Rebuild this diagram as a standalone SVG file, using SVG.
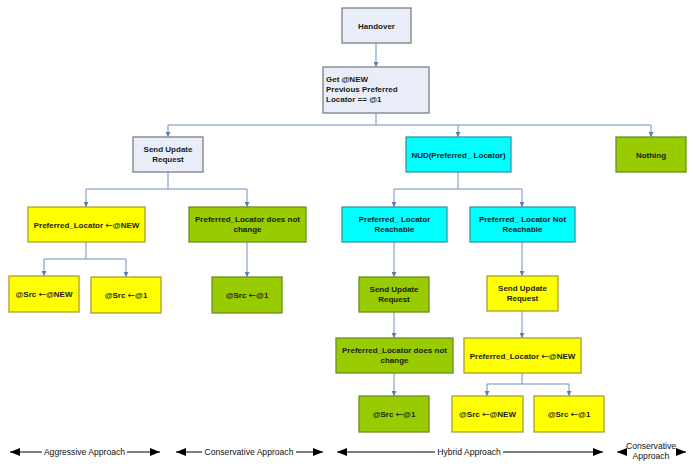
<svg xmlns="http://www.w3.org/2000/svg" width="693" height="466" viewBox="0 0 693 466">
<style>
.b{stroke-width:1.3}
.lav{fill:#e9edf7;stroke:#7a7f88}
.yel{fill:#ffff00;stroke:#a8a030}
.grn{fill:#99cc00;stroke:#6b8e23}
.cyn{fill:#00ffff;stroke:#3b93a3}
text{font-family:"Liberation Sans",Arial,sans-serif;font-size:8px;font-weight:bold;fill:#1a1a1a;text-anchor:middle}
.a{font-family:"DejaVu Sans",sans-serif;font-weight:normal;font-size:9px}
.l{text-anchor:start}
.ap{font-weight:normal;font-size:8.6px;fill:#111}
.c path{fill:none;stroke:#6f8fbf;stroke-width:1}
.ax line{stroke:#000;stroke-width:1}
</style>
<defs>
<marker id="ar" viewBox="0 0 6 6" refX="6" refY="3" markerWidth="5" markerHeight="5" orient="auto" markerUnits="userSpaceOnUse">
<path d="M0,0 L6,3 L0,6 z" fill="#5b7fb5"/>
</marker>
<marker id="bk" viewBox="0 0 10 8" refX="10" refY="4" markerWidth="10" markerHeight="8" orient="auto-start-reverse" markerUnits="userSpaceOnUse">
<path d="M0,0 L10,4 L0,8 z" fill="#000"/>
</marker>
</defs>

<g id="connectors" class="c">
<path d="M376,43 V67" marker-end="url(#ar)"/>
<path d="M376,113 V125 H168 V137" marker-end="url(#ar)"/>
<path d="M376,125 H651 V137" marker-end="url(#ar)"/>
<path d="M458,125 V137" marker-end="url(#ar)"/>
<path d="M168,172 V189 H86 V207" marker-end="url(#ar)"/>
<path d="M168,189 H247 V207" marker-end="url(#ar)"/>
<path d="M86,242 V259 H44 V276" marker-end="url(#ar)"/>
<path d="M86,259 H126 V277" marker-end="url(#ar)"/>
<path d="M247,242 V277" marker-end="url(#ar)"/>
<path d="M458,172 V189 H394 V207" marker-end="url(#ar)"/>
<path d="M458,189 H522 V207" marker-end="url(#ar)"/>
<path d="M394,242 V277" marker-end="url(#ar)"/>
<path d="M522,242 V276" marker-end="url(#ar)"/>
<path d="M394,312 V338" marker-end="url(#ar)"/>
<path d="M522,311 V338" marker-end="url(#ar)"/>
<path d="M394,373 V396" marker-end="url(#ar)"/>
<path d="M522,373 V384 H487 V396" marker-end="url(#ar)"/>
<path d="M522,384 H569 V396" marker-end="url(#ar)"/>
</g>

<g id="handover"><rect class="b lav" x="342" y="8" width="69" height="35"/><text x="376.5" y="28.5">Handover</text></g>
<g id="getnew"><rect class="b lav" x="323" y="67" width="106" height="46"/>
<text class="l" x="326" y="82">Get @NEW</text><text class="l" x="326" y="92">Previous Preferred</text><text class="l" x="326" y="102">Locator == @1</text></g>
<g id="sur1"><rect class="b lav" x="133" y="137" width="70" height="35"/><text x="168" y="152">Send Update</text><text x="168" y="162">Request</text></g>
<g id="nud"><rect class="b cyn" x="406" y="137" width="105" height="35"/><text x="458.5" y="157.5">NUD(Preferred_ Locator)</text></g>
<g id="nothing"><rect class="b grn" x="616" y="137" width="70" height="35"/><text x="651" y="157.5">Nothing</text></g>

<g id="plnew1"><rect class="b yel" x="28" y="207" width="117" height="35"/><text x="86.5" y="227.5">Preferred_Locator <tspan class="a">←</tspan>@NEW</text></g>
<g id="plnc1"><rect class="b grn" x="189" y="207" width="117" height="35"/><text x="247.5" y="222">Preferred_Locator does not</text><text x="247.5" y="232">change</text></g>
<g id="plreach"><rect class="b cyn" x="342" y="207" width="105" height="35"/><text x="394.5" y="222">Preferred_ Locator</text><text x="394.5" y="232">Reachable</text></g>
<g id="plnotreach"><rect class="b cyn" x="470" y="207" width="105" height="35"/><text x="522.5" y="222">Preferred_ Locator Not</text><text x="522.5" y="232">Reachable</text></g>

<g id="src1"><rect class="b yel" x="9" y="276" width="70" height="36"/><text x="44" y="297">@Src <tspan class="a">←</tspan>@NEW</text></g>
<g id="src2"><rect class="b yel" x="91" y="277" width="70" height="36"/><text x="126" y="298">@Src <tspan class="a">←</tspan>@1</text></g>
<g id="src3"><rect class="b grn" x="212" y="277" width="70" height="36"/><text x="247" y="298">@Src <tspan class="a">←</tspan>@1</text></g>
<g id="sur2"><rect class="b grn" x="359" y="277" width="70" height="35"/><text x="394" y="292">Send Update</text><text x="394" y="302">Request</text></g>
<g id="sur3"><rect class="b yel" x="487" y="276" width="71" height="35"/><text x="522.5" y="291">Send Update</text><text x="522.5" y="301">Request</text></g>

<g id="plnc2"><rect class="b grn" x="336" y="338" width="117" height="35"/><text x="394.5" y="353">Preferred_Locator does not</text><text x="394.5" y="363">change</text></g>
<g id="plnew2"><rect class="b yel" x="464" y="338" width="117" height="35"/><text x="522.5" y="358.5">Preferred_Locator <tspan class="a">←</tspan>@NEW</text></g>

<g id="src4"><rect class="b grn" x="359" y="396" width="70" height="36"/><text x="394" y="417">@Src <tspan class="a">←</tspan>@1</text></g>
<g id="src5"><rect class="b yel" x="452" y="396" width="71" height="36"/><text x="487.5" y="417">@Src <tspan class="a">←</tspan>@NEW</text></g>
<g id="src6"><rect class="b yel" x="534" y="396" width="70" height="36"/><text x="569" y="417">@Src <tspan class="a">←</tspan>@1</text></g>

<g id="approaches" class="ax">
<line x1="10" y1="452" x2="42" y2="452" marker-start="url(#bk)"/>
<line x1="127" y1="452" x2="160" y2="452" marker-end="url(#bk)"/>
<text class="ap" x="84.5" y="455">Aggressive Approach</text>
<line x1="176" y1="452" x2="202" y2="452" marker-start="url(#bk)"/>
<line x1="296" y1="452" x2="323" y2="452" marker-end="url(#bk)"/>
<text class="ap" x="249" y="455">Conservative Approach</text>
<line x1="337" y1="452" x2="435" y2="452" marker-start="url(#bk)"/>
<line x1="503" y1="452" x2="603" y2="452" marker-end="url(#bk)"/>
<text class="ap" x="469" y="455">Hybrid Approach</text>
<line x1="617" y1="452" x2="625" y2="452" marker-start="url(#bk)"/>
<line x1="677" y1="452" x2="686" y2="452" marker-end="url(#bk)"/>
<text class="ap" x="651" y="449">Conservative</text>
<text class="ap" x="651" y="459">Approach</text>
</g>
</svg>
